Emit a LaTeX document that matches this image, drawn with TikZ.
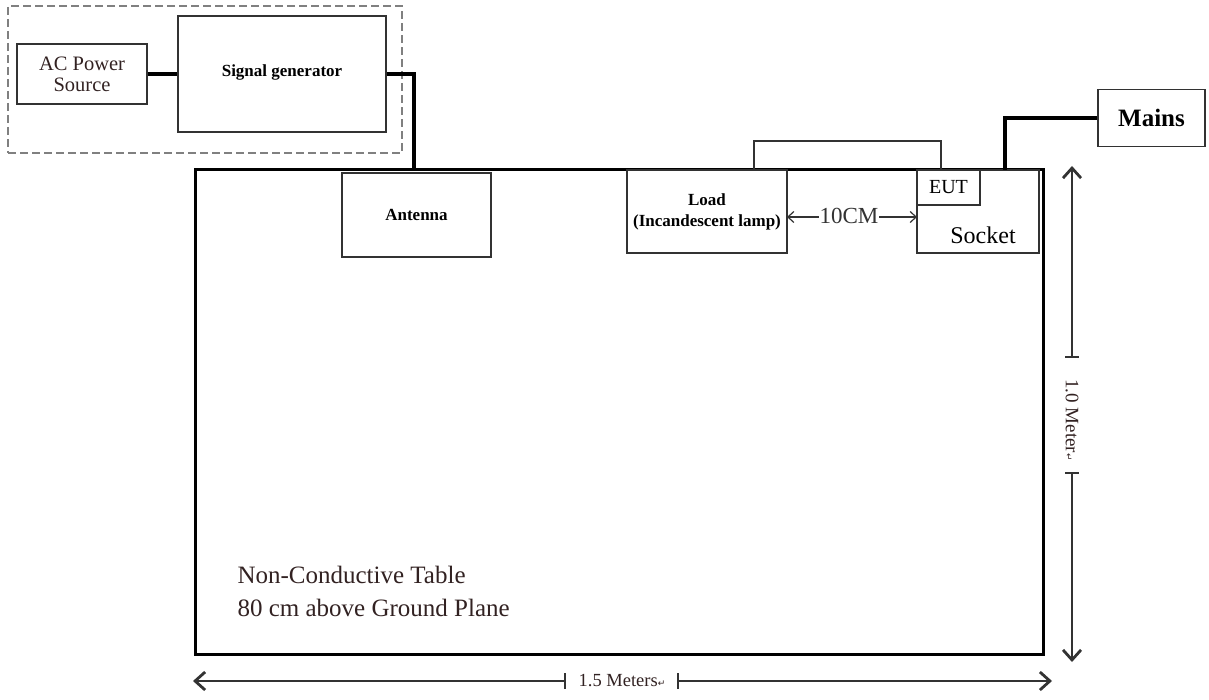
\documentclass[tikz,border=0pt]{standalone}
\usepackage{fontspec}
\setmainfont{Liberation Serif}
\newfontfamily\symfont{DejaVu Sans}
\usetikzlibrary{arrows.meta}
\definecolor{txtdark}{RGB}{50,34,34}
\definecolor{boxgray}{RGB}{50,50,50}
\tikzset{
  box/.style={draw=boxgray, line width=1.8pt, rectangle, inner sep=0pt, align=center},
  boldlbl/.style={font=\fontsize{17}{21}\selectfont\bfseries, align=center},
  wire/.style={line width=3.2pt, black},
  dimline/.style={line width=1.3pt, black!80},
  dimtips/.style={{Straight Barb[length=10pt,width=18pt,line width=2.8pt]}-{Straight Barb[length=10pt,width=18pt,line width=2.8pt]}},
  smalltip/.style={{Straight Barb[length=6pt,width=11pt,line width=1.2pt]}-{Straight Barb[length=6pt,width=11pt,line width=1.2pt]}},
}
\begin{document}
\begin{tikzpicture}[x=1pt,y=-1pt]
\useasboundingbox (0,0) rectangle (1209,700);

% dashed enclosure
\node[draw=gray, dash pattern=on 8pt off 4pt, line width=1.8pt, minimum width=394pt, minimum height=147pt, inner sep=0pt] (encl) at (205,79.5) {};

% AC power source and signal generator
\node[box, minimum width=130pt, minimum height=60pt, text=txtdark, font=\fontsize{20.5}{21}\selectfont] (ac) at (82,74) {AC Power\\Source};
\node[box, minimum width=208pt, minimum height=116pt] (sg) at (282,74) {};
\node[boldlbl] (sgtext) at (282,72) {Signal generator};

% table
\node[draw=black, line width=3pt, minimum width=848pt, minimum height=484pt, inner sep=0pt] (table) at (619,412) {};

% antenna, load, socket, EUT
\node[box, minimum width=149pt, minimum height=84pt, boldlbl] (antenna) at (416.5,215) {Antenna};
\node[box, minimum width=160pt, minimum height=83pt, boldlbl] (load) at (707,211.5) {Load\\(Incandescent lamp)};
\node[box, minimum width=122pt, minimum height=83pt] (socket) at (978,211.5) {};
\node[box, minimum width=63pt, minimum height=35pt, font=\fontsize{20}{22}\selectfont] (eut) at (948.5,187.5) {EUT};
\node[font=\fontsize{24}{26}\selectfont, anchor=center] (sockettext) at (983,235) {Socket};

% mains
\node[box, minimum width=107pt, minimum height=57pt, font=\fontsize{25}{28}\selectfont\bfseries] (mains) at (1151.5,118) {Mains};

% connections
\coordinate (antfeed) at (414,170);
\coordinate (mainsfeed) at (1005,170);
\coordinate (loopL) at (754,170);
\coordinate (loopR) at (941,170);
\coordinate (loopTop) at (941,141);
\draw[wire] (ac.east) -- (sg.west);
\draw[wire] (sg.east) -| (antfeed);
\draw[wire] (mains.west) -| (mainsfeed);
\draw[draw=boxgray, line width=1.8pt] (loopL) |- (loopTop) -- (loopR);

% 10CM
\coordinate (tenL) at (787,217);
\coordinate (tenR) at (917,217);
\draw[dimline, smalltip] (tenL) -- (tenR);
\node[fill=white, inner sep=1pt, font=\fontsize{23}{25}\selectfont, text=black!80] (tencm) at (849,216) {10CM};

% table label
\node[anchor=north west, align=left, text=txtdark, font=\fontsize{25}{32.5}\selectfont] (tablelbl) at (234,563) {Non-Conductive Table\\80 cm above Ground Plane};

% horizontal dimension
\coordinate (hdL) at (193,681);
\coordinate (hdR) at (1052,681);
\draw[dimline, dimtips] (hdL) -- (hdR);
\node[fill=white, inner sep=0pt, minimum width=113pt, minimum height=14pt] (hdbox) at (621.5,681) {};
\node[font=\fontsize{18.5}{20}\selectfont, text=txtdark] (hdtext) at (622,681) {1.5 Meters{\symfont\fontsize{9}{10}\selectfont ↵}};
\draw[dimline, line width=1.6pt] ([yshift=-8pt]hdbox.west) -- ([yshift=8pt]hdbox.west);
\draw[dimline, line width=1.6pt] ([yshift=-8pt]hdbox.east) -- ([yshift=8pt]hdbox.east);

% vertical dimension
\coordinate (vdT) at (1072,166);
\coordinate (vdB) at (1072,662);
\draw[dimline, dimtips] (vdT) -- (vdB);
\node[fill=white, inner sep=0pt, minimum width=14pt, minimum height=116pt] (vdbox) at (1072,415) {};
\node[rotate=-90, font=\fontsize{19}{20}\selectfont, text=txtdark] (vdtext) at (1072,420) {1.0 Meter{\symfont\fontsize{9}{10}\selectfont ↵}};
\draw[dimline, line width=1.6pt] ([xshift=-7pt]vdbox.north) -- ([xshift=7pt]vdbox.north);
\draw[dimline, line width=1.6pt] ([xshift=-7pt]vdbox.south) -- ([xshift=7pt]vdbox.south);
\end{tikzpicture}
\end{document}
